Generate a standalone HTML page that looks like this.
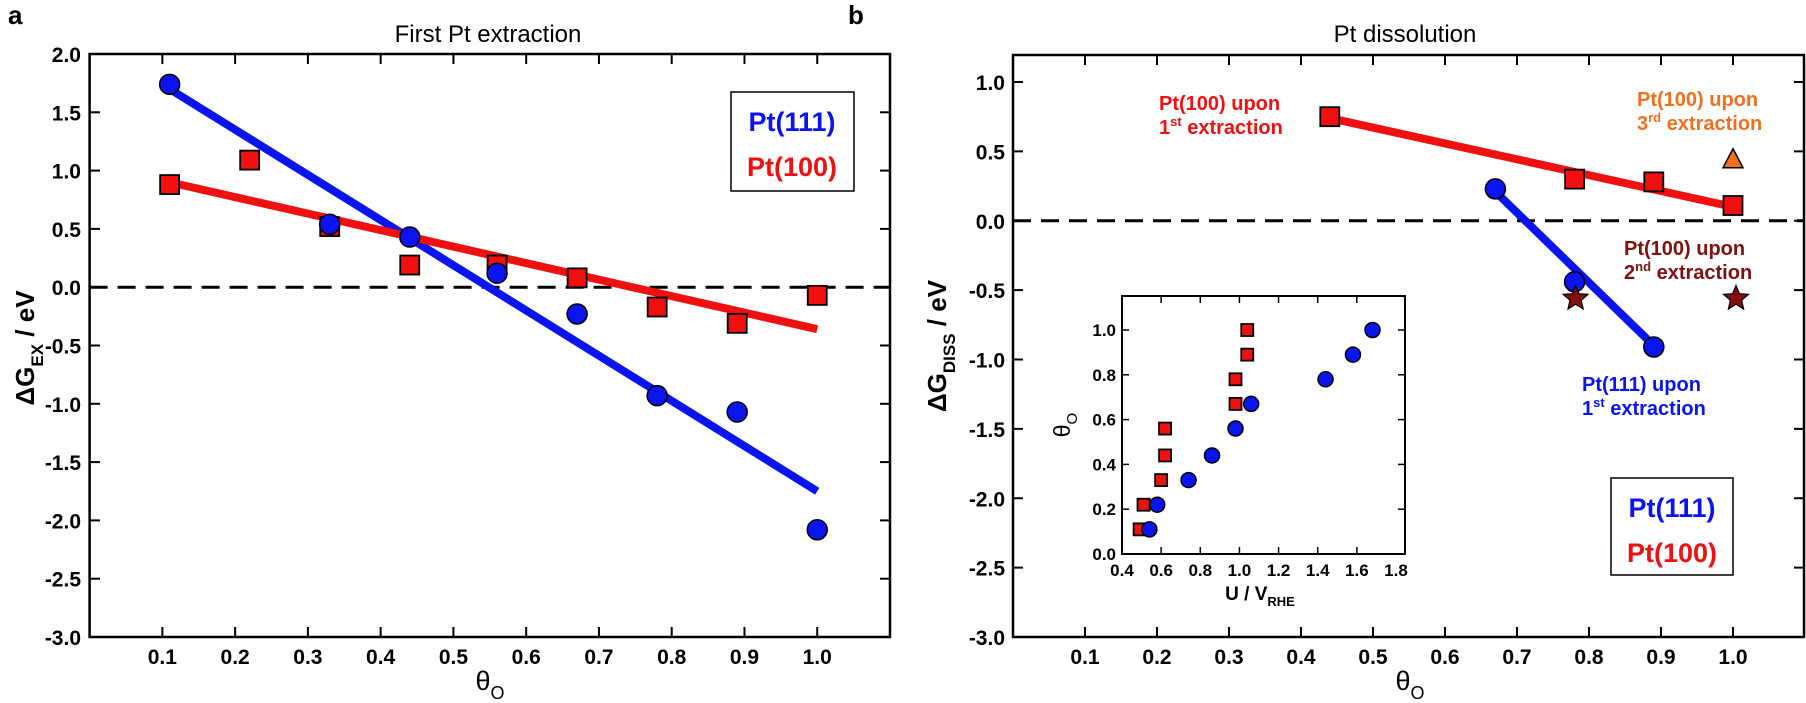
<!DOCTYPE html>
<html><head><meta charset="utf-8"><style>
html,body{margin:0;padding:0;background:#fff;width:1806px;height:703px;overflow:hidden}
svg{display:block;font-family:"Liberation Sans",sans-serif}
.t{font-size:21px;font-weight:bold}
.ti{font-size:17px;font-weight:bold}
</style></head><body>
<svg id="s" width="1806" height="703" viewBox="0 0 1806 703"></svg>
<script>
const S=document.getElementById('s');let h='';
function add(x){h+=x;}
function panel(o){
  const X=v=>o.x0+(v-o.xa)/(o.xb-o.xa)*(o.x1-o.x0);
  const Y=v=>o.y0+(o.ya-v)/(o.ya-o.yb)*(o.y1-o.y0);
  return {X,Y,o};
}
const L=panel({x0:89.6,x1:890,xa:0,xb:1.1,y0:54,y1:637,ya:2,yb:-3});
const R=panel({x0:1013,x1:1805,xa:0,xb:1.1,y0:82,y1:637,ya:1,yb:-3});
const I=panel({x0:1122,x1:1396,xa:0.4,xb:1.8,y0:330,y1:554,ya:1,yb:0});
function frame(x0,y0,x1,y1,sw){add(`<rect x="${x0}" y="${y0}" width="${x1-x0}" height="${y1-y0}" fill="none" stroke="#000" stroke-width="${sw}"/>`);}
function circ(P,x,y,r){add(`<circle cx="${P.X(x)}" cy="${P.Y(y)}" r="${r}" fill="#0a14f0" stroke="#000" stroke-width="1.5"/>`);}
function sq(P,x,y,s){add(`<rect x="${P.X(x)-s/2}" y="${P.Y(y)-s/2}" width="${s}" height="${s}" fill="#f01010" stroke="#000" stroke-width="1.8"/>`);}
function line(P,a,b,c,d,col,w){add(`<line x1="${P.X(a)}" y1="${P.Y(b)}" x2="${P.X(c)}" y2="${P.Y(d)}" stroke="${col}" stroke-width="${w}"/>`);}
// ---- Left
frame(89.6,54,890,637,2.5);
for(let i=1;i<=10;i++){const x=L.X(i/10);add(`<line x1="${x}" y1="637" x2="${x}" y2="627" stroke="#000" stroke-width="2"/><line x1="${x}" y1="54" x2="${x}" y2="64" stroke="#000" stroke-width="2"/><text class="t" x="${x}" y="664" text-anchor="middle">${(i/10).toFixed(1)}</text>`);}
for(let v=2;v>=-3;v-=0.5){const y=L.Y(v);add(`<line x1="89.6" y1="${y}" x2="100" y2="${y}" stroke="#000" stroke-width="2"/><line x1="880" y1="${y}" x2="890" y2="${y}" stroke="#000" stroke-width="2"/><text class="t" x="81" y="${y+8}" text-anchor="end">${v.toFixed(1)}</text>`);}
add(`<line x1="89.6" y1="${L.Y(0)}" x2="890" y2="${L.Y(0)}" stroke="#000" stroke-width="3" stroke-dasharray="18,10"/>`);
line(L,0.11,1.7,1.0,-1.75,'#0a14f0',8);
line(L,0.11,0.9,1.0,-0.36,'#f01010',8);
[[0.11,0.88],[0.22,1.09],[0.33,0.52],[0.44,0.19],[0.56,0.19],[0.67,0.08],[0.78,-0.17],[0.89,-0.31],[1.0,-0.07]].forEach(p=>sq(L,p[0],p[1],19));
[[0.11,1.74],[0.33,0.54],[0.44,0.43],[0.56,0.12],[0.67,-0.23],[0.78,-0.93],[0.89,-1.07],[1.0,-2.08]].forEach(p=>circ(L,p[0],p[1],10));
add(`<rect x="731" y="92" width="123" height="99" fill="#fff" stroke="#000" stroke-width="1.5"/>
<text x="792" y="131" text-anchor="middle" font-size="27" font-weight="bold" fill="#0a14f0">Pt(111)</text>
<text x="792" y="176" text-anchor="middle" font-size="27" font-weight="bold" fill="#f01010">Pt(100)</text>
<text x="488" y="42" text-anchor="middle" font-size="24">First Pt extraction</text>
<text x="8" y="24" font-size="26" font-weight="bold">a</text>
<text x="490" y="690" text-anchor="middle" font-size="27">θ<tspan font-size="18" dy="9">O</tspan></text>
<text transform="translate(34,348) rotate(-90)" text-anchor="middle" font-size="26" font-weight="bold">ΔG<tspan font-size="17" dy="9">EX</tspan><tspan dy="-9">     / eV</tspan></text>`);
// ---- Right
frame(1013,55,1804,637,2.5);
for(let i=1;i<=10;i++){const x=R.X(i/10);add(`<line x1="${x}" y1="637" x2="${x}" y2="627" stroke="#000" stroke-width="2"/><line x1="${x}" y1="55" x2="${x}" y2="65" stroke="#000" stroke-width="2"/><text class="t" x="${x}" y="664" text-anchor="middle">${(i/10).toFixed(1)}</text>`);}
for(let v=1;v>=-3;v-=0.5){const y=R.Y(v);add(`<line x1="1013" y1="${y}" x2="1023" y2="${y}" stroke="#000" stroke-width="2"/><line x1="1794" y1="${y}" x2="1804" y2="${y}" stroke="#000" stroke-width="2"/><text class="t" x="1005" y="${y+8}" text-anchor="end">${v.toFixed(1)}</text>`);}
add(`<line x1="1013" y1="${R.Y(0)}" x2="1804" y2="${R.Y(0)}" stroke="#000" stroke-width="3" stroke-dasharray="18,10"/>`);
line(R,0.44,0.74,1.0,0.1,'#f01010',8);
line(R,0.67,0.21,0.89,-0.9,'#0a14f0',8);
[[0.44,0.75],[0.78,0.3],[0.89,0.28],[1.0,0.11]].forEach(p=>sq(R,p[0],p[1],19));
[[0.67,0.23],[0.78,-0.44],[0.89,-0.91]].forEach(p=>circ(R,p[0],p[1],10));
{const x=R.X(1.0),y=R.Y(0.44);add(`<polygon points="${x},${y-11} ${x-10},${y+8} ${x+10},${y+8}" fill="#f07020" stroke="#000" stroke-width="1.5"/>`);}
function star(cx,cy,r){let p=[];for(let k=0;k<10;k++){const a=-Math.PI/2+k*Math.PI/5,rr=k%2?r*0.45:r;p.push((cx+rr*Math.cos(a)).toFixed(1)+','+(cy+rr*Math.sin(a)).toFixed(1));}add(`<polygon points="${p.join(' ')}" fill="#801010" stroke="#000" stroke-width="1.2"/>`);}
star(R.X(0.78)+1,R.Y(-0.56),13);star(R.X(1.0)+3,R.Y(-0.56),13);
add(`<g font-size="20" font-weight="bold">
<text x="1159" y="110" fill="#f01010">Pt(100) upon</text><text x="1159" y="134" fill="#f01010">1<tspan font-size="13" dy="-8">st</tspan><tspan dy="8"> extraction</tspan></text>
<text x="1637" y="106" fill="#f07020">Pt(100) upon</text><text x="1637" y="130" fill="#f07020">3<tspan font-size="13" dy="-8">rd</tspan><tspan dy="8"> extraction</tspan></text>
<text x="1624" y="255" fill="#801010">Pt(100) upon</text><text x="1624" y="279" fill="#801010">2<tspan font-size="13" dy="-8">nd</tspan><tspan dy="8"> extraction</tspan></text>
<text x="1582" y="391" fill="#0a14f0">Pt(111) upon</text><text x="1582" y="415" fill="#0a14f0">1<tspan font-size="13" dy="-8">st</tspan><tspan dy="8"> extraction</tspan></text>
</g>
<rect x="1611" y="478" width="122" height="97" fill="#fff" stroke="#000" stroke-width="1.5"/>
<text x="1672" y="517" text-anchor="middle" font-size="27" font-weight="bold" fill="#0a14f0">Pt(111)</text>
<text x="1672" y="562" text-anchor="middle" font-size="27" font-weight="bold" fill="#f01010">Pt(100)</text>
<text x="1405" y="42" text-anchor="middle" font-size="24">Pt dissolution</text>
<text x="848" y="24" font-size="26" font-weight="bold">b</text>
<text x="1410" y="690" text-anchor="middle" font-size="27">θ<tspan font-size="18" dy="9">O</tspan></text>
<text transform="translate(946,346) rotate(-90)" text-anchor="middle" font-size="26" font-weight="bold">ΔG<tspan font-size="17" dy="9">DISS</tspan><tspan dy="-9">   / eV</tspan></text>`);
// inset
add(`<rect x="1122" y="296" width="283" height="258" fill="#fff" stroke="#000" stroke-width="2"/>`);
for(let i=0;i<=7;i++){const v=0.4+i*0.2,x=I.X(v);if(i>0&&i<7)add(`<line x1="${x}" y1="554" x2="${x}" y2="547" stroke="#000" stroke-width="1.5"/><line x1="${x}" y1="296" x2="${x}" y2="303" stroke="#000" stroke-width="1.5"/>`);add(`<text class="ti" x="${x}" y="576" text-anchor="middle">${v.toFixed(1)}</text>`);}
for(let i=0;i<=5;i++){const v=i*0.2,y=I.Y(v);if(i>0)add(`<line x1="1122" y1="${y}" x2="1129" y2="${y}" stroke="#000" stroke-width="1.5"/><line x1="1398" y1="${y}" x2="1405" y2="${y}" stroke="#000" stroke-width="1.5"/>`);add(`<text class="ti" x="1116" y="${y+6}" text-anchor="end">${v.toFixed(1)}</text>`);}
[[0.49,0.11],[0.51,0.22],[0.6,0.33],[0.62,0.44],[0.62,0.56],[0.98,0.67],[0.98,0.78],[1.04,0.89],[1.04,1.0]].forEach(p=>sq(I,p[0],p[1],12));
[[0.54,0.11],[0.58,0.22],[0.74,0.33],[0.86,0.44],[0.98,0.56],[1.06,0.67],[1.44,0.78],[1.58,0.89],[1.68,1.0]].forEach(p=>circ(I,p[0],p[1],7.5));
add(`<text x="1260" y="600" text-anchor="middle" font-size="19" font-weight="bold">U  /  V<tspan font-size="13" dy="6">RHE</tspan></text>
<text transform="translate(1070,425) rotate(-90)" text-anchor="middle" font-size="23">θ<tspan font-size="15" dy="7">O</tspan></text>`);
S.innerHTML=h;
</script>
</body></html>
